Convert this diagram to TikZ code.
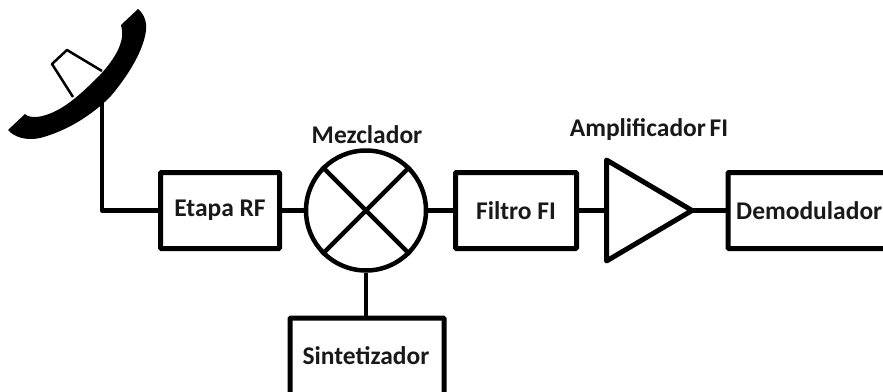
\documentclass[tikz,border=0pt]{standalone}
\usepackage{fontspec}
\setmainfont{Carlito}
\tikzset{
  x=1pt,y=-1pt,
  wire/.style={line width=4.5pt,line join=round,black},
  blockbox/.style={draw=black,line width=5pt,rounded corners=1pt,inner sep=0pt,font=\fontsize{25.5}{28}\selectfont\bfseries,text=black!90},
  title/.style={inner sep=0pt,font=\fontsize{25.5}{28}\selectfont\bfseries,text=black!90}
}
\begin{document}
\begin{tikzpicture}
\useasboundingbox (0,0) rectangle (883,391);
\clip (0,0) rectangle (883,391);
% dish
\fill[black] (138,9) .. controls (144,14) and (147,22) .. (146,30)
  .. controls (144,50) and (128,76) .. (110,97)
  .. controls (92,115) and (67,131) .. (40,138)
  .. controls (26,141) and (14,137) .. (8,130)
  -- (25,114) .. controls (28,117) and (32,117) .. (37,117)
  .. controls (60,114) and (80,95) .. (100,75)
  .. controls (112,62) and (124,45) .. (122,30)
  -- (121,25) -- cycle;
\draw[line width=2.5pt,line join=round] (73,97) -- (52,64) -- (67,50) -- (102,71);
\coordinate (dishfoot) at (102,100);
% blocks
\node[blockbox,minimum width=119pt,minimum height=76pt] (rf) at (220,210.5) {Etapa RF};
\node[draw=black,line width=4.5pt,circle,minimum size=120pt,inner sep=0pt] (mix) at (366,210.5) {};
\node[blockbox,minimum width=121pt,minimum height=76pt] (fi) at (516,210.5) {Filtro FI};
\coordinate (ampa) at (606.5,160);
\coordinate (ampb) at (606.5,261);
\coordinate (ampc) at (692,210.5);
\draw[wire,line width=5pt] (ampa) -- (ampc) -- (ampb) -- cycle;
\node[blockbox,minimum width=170pt,minimum height=76pt] (dem) at (813,210.5) {};
\node[title,anchor=base west] (demt) at (736,219) {Demodulador};
\node[blockbox,minimum width=154pt,minimum height=90pt] (syn) at (367,363) {};
\node[title,anchor=base] (synt) at (366,364) {Sintetizador};
\node[title,anchor=base] (mixt) at (367,143) {Mezclador};
\node[title,anchor=base] (ampt) at (649,136) {Amplificador\hspace{-2pt} FI};
% connectors
\draw[wire] (dishfoot) |- (rf.west);
\draw[wire] (rf.east) -- (mix.west);
\draw[wire] (mix.east) -- (fi.west);
\draw[wire] (fi.east) -- (ampa |- fi.east);
\draw[wire] (ampc) -- (dem.west);
\draw[wire] (mix.south) -- (syn.north -| mix.south);
\draw[wire,line cap=butt] (mix.45) -- (mix.225);
\draw[wire,line cap=butt] (mix.135) -- (mix.315);
\end{tikzpicture}
\end{document}
